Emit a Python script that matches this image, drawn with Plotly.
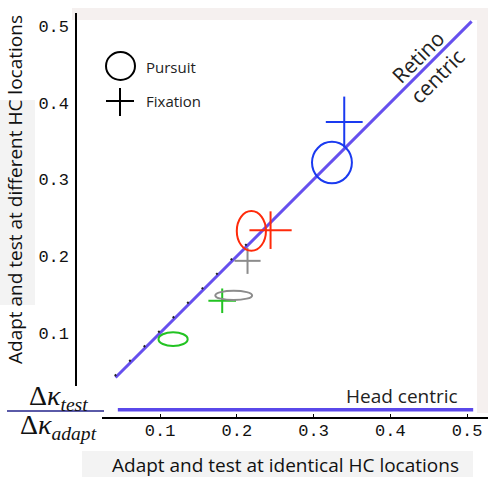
import plotly.graph_objects as go

# ---------------- data ----------------
condition_colors = ["#22c322", "#8c8c8c", "#ff2a0a", "#1a3af0"]

# Pursuit (ellipses): centre and half-extents
pursuit_x = [0.117, 0.196, 0.219, 0.324]
pursuit_y = [0.092, 0.149, 0.233, 0.322]
pursuit_rx = [0.019, 0.024, 0.019, 0.026]
pursuit_ry = [0.009, 0.006, 0.026, 0.027]

# Fixation (crosses): centre and half-extents
fixation_x = [0.181, 0.214, 0.244, 0.340]
fixation_y = [0.142, 0.194, 0.234, 0.375]
fixation_ex = [0.018, 0.017, 0.0275, 0.024]
fixation_ey = [0.016, 0.017, 0.0245, 0.033]

# model predictions
retino_x = [0.042, 0.506]
retino_y = [0.042, 0.506]
guide_x = [0.041, 0.215]
guide_y = [0.044, 0.218]
head_x = [0.045, 0.508]
head_y = [0.0, 0.0]

x_ticks = [0.1, 0.2, 0.3, 0.4, 0.5]
y_ticks = [0.1, 0.2, 0.3, 0.4, 0.5]
tick_labels = ["0.1", "0.2", "0.3", "0.4", "0.5"]

legend_labels = ["Pursuit", "Fixation"]

# ---------------- layout helpers ----------------
W, H = 488, 477
ML, MR, MT, MB = 76, 4, 14, 59
PW, PH = W - ML - MR, H - MT - MB


def px(x):
    return (x - ML) / PW


def py(y):
    return (H - MB - y) / PH


SANS = "Open Sans"
LINE_C = "#6650ee"

fig = go.Figure()

fig.add_trace(go.Scatter(x=head_x, y=head_y, mode="lines",
                         line=dict(color="#5a48ea", width=3.5),
                         hoverinfo="skip", showlegend=False))
fig.add_trace(go.Scatter(x=retino_x, y=retino_y, mode="lines",
                         line=dict(color=LINE_C, width=3),
                         hoverinfo="skip", showlegend=False))
fig.add_trace(go.Scatter(x=guide_x, y=guide_y, mode="lines",
                         line=dict(color="#222", width=2, dash="2px,18.5px"),
                         hoverinfo="skip", showlegend=False))

for fx, fy, ex, ey, c in zip(fixation_x, fixation_y, fixation_ex, fixation_ey, condition_colors):
    fig.add_trace(go.Scatter(
        x=[fx], y=[fy], mode="markers",
        marker=dict(size=1, color="rgba(0,0,0,0)"),
        error_x=dict(type="data", array=[ex], visible=True, width=0, thickness=2, color=c),
        error_y=dict(type="data", array=[ey], visible=True, width=0, thickness=2, color=c),
        showlegend=False, hoverinfo="skip"))

shapes = []
for cx, cy, rx, ry, c in zip(pursuit_x, pursuit_y, pursuit_rx, pursuit_ry, condition_colors):
    shapes.append(dict(type="circle", xref="x", yref="y",
                       x0=cx - rx, x1=cx + rx, y0=cy - ry, y1=cy + ry,
                       line=dict(color=c, width=2)))

# background patches (scanned-figure look)
bg = "#f3f3f3"
pink = "#f5f0ef"
for (x0, y0, x1, y1, col) in [(82, 451, 473, 477, bg), (0, 100, 35, 305, bg),
                               (72, 8, 488, 20, pink), (477, 8, 488, 413, pink)]:
    shapes.append(dict(type="rect", xref="paper", yref="paper", layer="below",
                       x0=px(x0), x1=px(x1), y0=py(y1), y1=py(y0),
                       fillcolor=col, line=dict(width=0)))

# axis lines
shapes.append(dict(type="line", xref="paper", yref="paper",
                   x0=px(76), x1=px(76), y0=py(386), y1=py(13),
                   line=dict(color="black", width=2)))
shapes.append(dict(type="line", xref="paper", yref="paper",
                   x0=px(102), x1=px(488), y0=py(418), y1=py(418),
                   line=dict(color="black", width=2)))
# fraction bar
shapes.append(dict(type="line", xref="paper", yref="paper",
                   x0=px(7), x1=px(104), y0=py(411), y1=py(411),
                   line=dict(color="#5a5aa8", width=2)))

# legend symbols
shapes.append(dict(type="circle", xref="paper", yref="paper",
                   x0=px(106), x1=px(135), y0=py(80), y1=py(52),
                   line=dict(color="black", width=2)))
shapes.append(dict(type="line", xref="paper", yref="paper",
                   x0=px(106), x1=px(134), y0=py(101), y1=py(101),
                   line=dict(color="black", width=2)))
shapes.append(dict(type="line", xref="paper", yref="paper",
                   x0=px(120), x1=px(120), y0=py(116), y1=py(88),
                   line=dict(color="black", width=2)))

annotations = [
    dict(text=legend_labels[0], x=px(144), y=py(67), xanchor="left", yanchor="middle",
         font=dict(family=SANS, size=15, color="#222")),
    dict(text=legend_labels[1], x=px(144), y=py(101), xanchor="left", yanchor="middle",
         font=dict(family=SANS, size=15, color="#222")),
    dict(text="Retino<br>centric", x=px(427), y=py(66), textangle=-45,
         xanchor="center", yanchor="middle",
         font=dict(family=SANS, size=21, color="#222")),
    dict(text="Head centric", x=px(402), y=py(396), xanchor="center", yanchor="middle",
         font=dict(family=SANS, size=19, color="#222")),
    dict(text="Adapt and test at identical HC locations", x=px(285.5), y=py(465),
         xanchor="center", yanchor="middle",
         font=dict(family=SANS, size=19, color="#111")),
    dict(text="Adapt and test at different HC locations", x=px(15), y=py(190),
         textangle=-90, xanchor="center", yanchor="middle",
         font=dict(family=SANS, size=19, color="#111")),
    dict(text="Δ<i>κ</i><sub><i>test</i></sub>", x=px(58), y=py(397),
         xanchor="center", yanchor="middle",
         font=dict(family="Liberation Serif", size=28, color="#111")),
    dict(text="Δ<i>κ</i><sub><i>adapt</i></sub>", x=px(58), y=py(426),
         xanchor="center", yanchor="middle",
         font=dict(family="Liberation Serif", size=28, color="#111")),
]
for a in annotations:
    a.update(xref="paper", yref="paper", showarrow=False)

fig.update_layout(
    width=W, height=H,
    margin=dict(l=ML, r=MR, t=MT, b=MB, pad=0),
    paper_bgcolor="white", plot_bgcolor="rgba(0,0,0,0)",
    shapes=shapes, annotations=annotations, showlegend=False,
    xaxis=dict(range=[-0.0095, 0.5221], showgrid=False, zeroline=False, showline=False,
               tickvals=x_ticks, ticktext=tick_labels, ticks="inside", ticklen=4,
               tickcolor="black", tickwidth=1,
               tickfont=dict(family="Liberation Mono", size=17, color="#111")),
    yaxis=dict(range=[-0.01075, 0.5156], showgrid=False, zeroline=False, showline=False,
               tickvals=y_ticks, ticktext=tick_labels, ticks="", ticklabelstandoff=6,
               tickfont=dict(family="Liberation Mono", size=17, color="#111")),
)

fig.write_html("out.html", config={"displayModeBar": False},
               post_script="document.body.style.margin='0';")
